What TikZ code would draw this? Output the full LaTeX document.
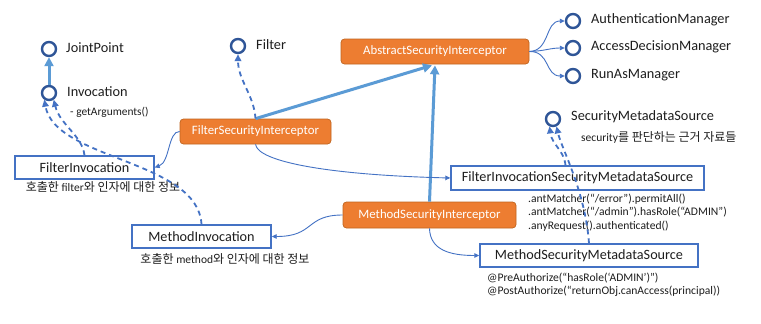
\documentclass[tikz,border=0pt]{standalone}
\usepackage{fontspec}
\setmainfont{Carlito}
\newfontfamily\krfont{Noto Sans CJK KR}
\newcommand\latn{\rmfamily\fontsize{11.5}{13}\selectfont}
\usetikzlibrary{arrows.meta,calc}
\definecolor{orng}{HTML}{ED7D31}
\definecolor{orngb}{HTML}{C0651F}
\definecolor{boxb}{HTML}{4472C4}
\definecolor{cdark}{HTML}{2F5597}
\definecolor{lblue}{HTML}{5B9BD5}
\definecolor{txt}{HTML}{1E1E1E}
\tikzset{
  ifc/.style={circle,draw=cdark,line width=2.4pt,fill=white,minimum size=14pt,inner sep=0pt},
  lbl/.style={anchor=west,inner sep=0pt,text=txt,font=\fontsize{14.3}{16}\selectfont},
  small/.style={anchor=west,inner sep=0pt,text=txt,font=\fontsize{11.4}{13}\selectfont},
  codetxt/.style={anchor=west,inner sep=0pt,text=txt,font=\fontsize{11.6}{13}\selectfont},
  kcap/.style={inner sep=0pt,text=txt,font=\krfont\fontsize{12}{14}\selectfont},
  obox/.style={rectangle,rounded corners=3.5pt,fill=orng,draw=orngb,line width=0.7pt,text=white,font=\fontsize{12.8}{14}\selectfont,inner sep=0pt},
  wbox/.style={rectangle,draw=boxb,line width=1.4pt,fill=white,text=txt,font=\fontsize{14.2}{16}\selectfont,inner sep=0pt},
  thickarr/.style={draw=lblue,line width=3pt,-{Triangle[length=9pt,width=9pt]}},
  thinarr/.style={draw=boxb,line width=0.9pt,-{Triangle[length=5pt,width=4.5pt]}},
  dasharr/.style={draw=boxb,line width=1.8pt,dash pattern=on 5pt off 4pt,-{Triangle[length=7pt,width=6.5pt]}},
}
\begin{document}
\begin{tikzpicture}[x=1pt,y=-1pt]
\useasboundingbox (0,0) rectangle (761,324);
\fill[white] (0,0) rectangle (761,324);

% interface circles
\node[ifc] (jp) at (49,49) {};
\node[lbl] (jpl) at (66,48) {JointPoint};
\node[ifc] (inv) at (49,93) {};
\node[lbl] (invl) at (67,92) {Invocation};
\node[small] (invm) at (70,112) {- getArguments()};
\node[ifc] (filt) at (238,46) {};
\node[lbl] (filtl) at (256,45) {Filter};
\node[ifc] (am) at (573,21) {};
\node[lbl] (aml) at (591,20) {AuthenticationManager};
\node[ifc] (adm) at (573,48) {};
\node[lbl] (adml) at (591,47) {AccessDecisionManager};
\node[ifc] (ram) at (573,76) {};
\node[lbl] (raml) at (591,75) {RunAsManager};
\node[ifc] (sms) at (553,119) {};
\node[lbl] (smsl) at (571,117) {SecurityMetadataSource};
\node[kcap,anchor=west] (smsc) at (581,137) {{\latn security}를 판단하는 근거 자료들};

% boxes
\node[obox,minimum width=188pt,minimum height=25pt] (asi) at (435,51.5) {AbstractSecurityInterceptor};
\node[obox,minimum width=151pt,minimum height=25pt] (fsi) at (255.5,131.5) {FilterSecurityInterceptor};
\node[obox,minimum width=173pt,minimum height=26pt] (msi) at (429.5,215) {MethodSecurityInterceptor};
\node[wbox,minimum width=139pt,minimum height=23pt] (fi) at (84.5,167.5) {FilterInvocation};
\node[kcap] (fic) at (103,187) {호출한 {\latn filter}와 인자에 대한 정보};
\node[wbox,minimum width=139pt,minimum height=23pt] (mi) at (201.5,236.5) {MethodInvocation};
\node[kcap] (mic) at (225,259) {호출한 {\latn method}와 인자에 대한 정보};
\node[wbox,minimum width=253pt,minimum height=24pt] (fisms) at (577.5,178) {FilterInvocationSecurityMetadataSource};
\node[codetxt] (c1) at (528,199) {.antMatcher(“/error”).permitAll()};
\node[codetxt] (c2) at (528,212.5) {.antMatcher(“/admin”).hasRole(“ADMIN”)};
\node[codetxt] (c3) at (528,226) {.anyRequest().authenticated()};
\node[wbox,minimum width=218pt,minimum height=23pt] (msms) at (589,255.5) {MethodSecurityMetadataSource};
\node[codetxt] (p1) at (487,278) {@PreAuthorize(“hasRole(‘ADMIN’)”)};
\node[codetxt] (p2) at (487,291.5) {@PostAuthorize(“returnObj.canAccess(principal))};

% thick inheritance arrows
\draw[thickarr] (inv.north) -- (jp.south);
\draw[thickarr] (fsi.north) -- ($(asi.south)+(-3,1)$);
\draw[thickarr] (msi.north) -- ($(asi.south)+(0,1)$);

% thin association arrows
\draw[thinarr] (asi.east) .. controls (550,51) and (545,21) .. (am.west);
\draw[thinarr] (asi.east) .. controls (545,51) and (550,48) .. (adm.west);
\draw[thinarr] (asi.east) .. controls (550,51) and (545,76) .. (ram.west);
\draw[thinarr] (fsi.west) .. controls (168,131) and (170,162) .. (fi.east);
\draw[thinarr] (fsi.south) .. controls (258,162) and (330,175) .. (fisms.west);
\draw[thinarr] (msi.west) .. controls (305,215) and (315,236.5) .. (mi.east);
\draw[thinarr] (msi.south) .. controls (430,250) and (450,255.5) .. (msms.west);

% dashed realization arrows
\draw[dasharr] (fsi.north) .. controls (254,95) and (238,80) .. (filt.south);
\draw[dasharr] (fi.north) .. controls (82,135) and (60,125) .. (inv.-55);
\draw[dasharr] (mi.north) .. controls (198,160) and (55,160) .. (inv.-125);
\draw[dasharr] ($(fisms.north)+(-12,0)$) .. controls (564,150) and (552,145) .. (sms.-115);
\draw[dasharr] (msms.north) .. controls (585,190) and (562,150) .. (sms.-65);
\end{tikzpicture}
\end{document}
